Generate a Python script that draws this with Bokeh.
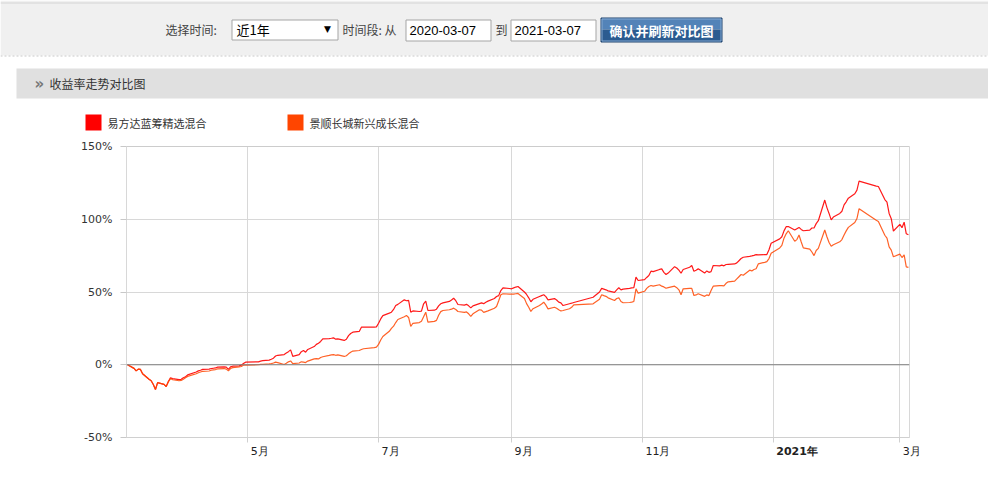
import pandas as pd
from bokeh.plotting import figure
from bokeh.layouts import column
from bokeh.models import (Range1d, FixedTicker, PrintfTickFormatter, CustomJSTickFormatter,
                          Span, Label)
from bokeh.embed import file_html
from bokeh.resources import INLINE

# ---------------- data ----------------
dates = [
    "2020-03-06", "2020-03-09", "2020-03-10", "2020-03-11", "2020-03-12", "2020-03-13",
    "2020-03-16", "2020-03-17", "2020-03-18", "2020-03-19", "2020-03-20", "2020-03-23",
    "2020-03-24", "2020-03-25", "2020-03-26", "2020-03-27", "2020-03-30", "2020-03-31",
    "2020-04-01", "2020-04-02", "2020-04-03", "2020-04-07", "2020-04-08", "2020-04-09",
    "2020-04-10", "2020-04-13", "2020-04-14", "2020-04-15", "2020-04-16", "2020-04-17",
    "2020-04-20", "2020-04-21", "2020-04-22", "2020-04-23", "2020-04-24", "2020-04-27",
    "2020-04-28", "2020-04-29", "2020-04-30", "2020-05-06", "2020-05-07", "2020-05-08",
    "2020-05-11", "2020-05-12", "2020-05-13", "2020-05-14", "2020-05-15", "2020-05-18",
    "2020-05-19", "2020-05-20", "2020-05-21", "2020-05-22", "2020-05-25", "2020-05-26",
    "2020-05-27", "2020-05-28", "2020-05-29", "2020-06-01", "2020-06-02", "2020-06-03",
    "2020-06-04", "2020-06-05", "2020-06-08", "2020-06-09", "2020-06-10", "2020-06-11",
    "2020-06-12", "2020-06-15", "2020-06-16", "2020-06-17", "2020-06-18", "2020-06-19",
    "2020-06-22", "2020-06-23", "2020-06-24", "2020-06-29", "2020-06-30", "2020-07-01",
    "2020-07-02", "2020-07-03", "2020-07-06", "2020-07-07", "2020-07-08", "2020-07-09",
    "2020-07-10", "2020-07-13", "2020-07-14", "2020-07-15", "2020-07-16", "2020-07-17",
    "2020-07-20", "2020-07-21", "2020-07-22", "2020-07-23", "2020-07-24", "2020-07-27",
    "2020-07-28", "2020-07-29", "2020-07-30", "2020-07-31", "2020-08-03", "2020-08-04",
    "2020-08-05", "2020-08-06", "2020-08-07", "2020-08-10", "2020-08-11", "2020-08-12",
    "2020-08-13", "2020-08-14", "2020-08-17", "2020-08-18", "2020-08-19", "2020-08-20",
    "2020-08-21", "2020-08-24", "2020-08-25", "2020-08-26", "2020-08-27", "2020-08-28",
    "2020-08-31", "2020-09-01", "2020-09-02", "2020-09-03", "2020-09-04", "2020-09-07",
    "2020-09-08", "2020-09-09", "2020-09-10", "2020-09-11", "2020-09-14", "2020-09-15",
    "2020-09-16", "2020-09-17", "2020-09-18", "2020-09-21", "2020-09-22", "2020-09-23",
    "2020-09-24", "2020-09-25", "2020-09-28", "2020-09-29", "2020-09-30", "2020-10-09",
    "2020-10-12", "2020-10-13", "2020-10-14", "2020-10-15", "2020-10-16", "2020-10-19",
    "2020-10-20", "2020-10-21", "2020-10-22", "2020-10-23", "2020-10-26", "2020-10-27",
    "2020-10-28", "2020-10-29", "2020-10-30", "2020-11-02", "2020-11-03", "2020-11-04",
    "2020-11-05", "2020-11-06", "2020-11-09", "2020-11-10", "2020-11-11", "2020-11-12",
    "2020-11-13", "2020-11-16", "2020-11-17", "2020-11-18", "2020-11-19", "2020-11-20",
    "2020-11-23", "2020-11-24", "2020-11-25", "2020-11-26", "2020-11-27", "2020-11-30",
    "2020-12-01", "2020-12-02", "2020-12-03", "2020-12-04", "2020-12-07", "2020-12-08",
    "2020-12-09", "2020-12-10", "2020-12-11", "2020-12-14", "2020-12-15", "2020-12-16",
    "2020-12-17", "2020-12-18", "2020-12-21", "2020-12-22", "2020-12-23", "2020-12-24",
    "2020-12-25", "2020-12-28", "2020-12-29", "2020-12-30", "2020-12-31", "2021-01-04",
    "2021-01-05", "2021-01-06", "2021-01-07", "2021-01-08", "2021-01-11", "2021-01-12",
    "2021-01-13", "2021-01-14", "2021-01-15", "2021-01-18", "2021-01-19", "2021-01-20",
    "2021-01-21", "2021-01-22", "2021-01-25", "2021-01-26", "2021-01-27", "2021-01-28",
    "2021-01-29", "2021-02-01", "2021-02-02", "2021-02-03", "2021-02-04", "2021-02-05",
    "2021-02-08", "2021-02-09", "2021-02-10", "2021-02-18", "2021-02-19", "2021-02-22",
    "2021-02-23", "2021-02-24", "2021-02-25", "2021-02-26", "2021-03-01", "2021-03-02",
    "2021-03-03", "2021-03-04", "2021-03-05",
]

red_fund = [
    0.0, -2.5, -4.2, -3.0, -3.2, -6.2,
    -10.0, -11.0, -13.6, -17.0, -12.3, -13.5,
    -15.0, -11.5, -9.0, -9.5, -10.2, -10.0,
    -9.0, -8.2, -7.0, -5.0, -4.2, -3.8,
    -3.2, -3.0, -2.6, -2.4, -2.2, -1.6,
    -1.4, -1.6, -3.2, -1.5, -1.0, -0.8,
    -0.3, 0.8, 1.8, 2.0, 2.5, 2.8,
    3.2, 3.8, 4.5, 6.0, 6.5, 7.0,
    8.0, 9.0, 10.2, 5.8, 7.0, 9.0,
    9.8, 8.6, 10.5, 12.5, 14.0, 14.8,
    16.0, 17.8, 18.0, 18.2, 18.5, 17.6,
    17.8, 16.7, 17.5, 20.0, 21.5, 22.4,
    22.9, 25.8, 25.8, 25.8, 26.0, 28.5,
    31.5, 33.8, 35.5, 36.1, 38.0, 40.7,
    41.5, 44.6, 44.0, 44.3, 36.1, 37.0,
    36.6, 36.8, 41.9, 43.7, 37.3, 37.5,
    38.2, 40.5, 41.9, 42.5, 43.5, 44.5,
    45.7, 44.0, 41.4, 41.0, 41.5, 40.5,
    39.1, 40.5, 42.0, 42.5, 42.0, 43.0,
    43.7, 45.5, 46.9, 47.5, 51.0, 52.9,
    52.4, 52.2, 52.8, 53.4, 53.8, 50.0,
    48.3, 46.0, 43.3, 45.0, 46.9, 47.5,
    48.1, 46.8, 44.6, 45.5, 44.5, 43.0,
    42.5, 40.7, 41.9, 42.3, 42.8, 46.4,
    50.0, 52.5, 52.0, 51.5, 50.8, 49.8,
    51.5, 52.9, 51.5, 52.0, 52.5, 52.8,
    53.0, 60.2, 57.9, 58.5, 60.0, 61.3,
    64.3, 64.0, 65.5, 65.9, 63.5, 62.0,
    63.0, 67.4, 66.5, 65.0, 62.9, 65.5,
    67.0, 68.2, 64.3, 65.0, 65.9, 63.0,
    64.5, 63.5, 64.0, 68.2, 68.0, 68.5,
    68.0, 68.9, 69.0, 69.3, 70.0, 71.5,
    73.0, 73.9, 74.5, 74.8, 75.2, 75.7,
    75.5, 75.7, 75.7, 79.0, 83.5, 86.5,
    88.0, 92.0, 94.9, 95.0, 92.6, 93.5,
    94.4, 93.0, 92.1, 92.5, 94.0, 94.0,
    97.0, 99.0, 113.2, 108.0, 104.0, 99.6,
    101.5, 104.0, 105.5, 109.9, 112.0, 114.5,
    117.5, 120.0, 126.2, 122.8, 122.5, 113.5,
    111.8, 104.0, 100.4, 91.9, 96.5, 94.2,
    98.0, 90.0, 89.3,
]

orange_fund = [
    0.0, -2.5, -4.2, -3.0, -3.2, -6.2,
    -10.0, -11.0, -13.6, -17.0, -12.3, -13.5,
    -15.0, -11.8, -9.5, -10.3, -11.0, -10.8,
    -10.0, -9.0, -8.0, -6.2, -5.5, -5.0,
    -4.5, -4.3, -3.8, -3.5, -3.3, -2.8,
    -2.6, -3.0, -4.2, -2.6, -2.0, -1.5,
    -1.2, -0.3, -0.2, 0.0, 0.2, 0.3,
    0.6, 0.8, 1.2, 1.8, 1.5, 0.2,
    1.0, 2.0, 2.6, 0.8, 1.2, 2.0,
    1.8, 1.5, 2.5, 4.0, 4.2, 4.0,
    5.0, 5.5, 6.4, 6.8, 7.0, 6.5,
    6.8, 5.7, 6.2, 7.5, 8.6, 9.4,
    9.8, 10.5, 11.0, 11.8, 12.1, 14.0,
    17.0, 19.4, 23.0, 25.0, 26.5, 29.0,
    31.1, 33.0, 33.8, 32.5, 26.3, 28.5,
    29.0, 29.9, 33.0, 36.1, 29.3, 29.8,
    30.5, 34.0, 36.5, 37.3, 37.8, 38.2,
    38.9, 38.0, 36.6, 36.0, 36.3, 35.0,
    33.2, 35.0, 37.8, 37.5, 36.0, 36.5,
    37.0, 38.8, 40.0, 44.0, 48.1, 48.8,
    48.5, 48.5, 48.6, 48.8, 49.0, 45.5,
    42.0, 39.5, 36.6, 38.5, 40.7, 41.8,
    43.0, 41.0, 38.4, 39.5, 38.8, 37.8,
    37.0, 37.3, 38.5, 39.5, 41.2, 41.9,
    45.0, 48.1, 47.5, 47.0, 46.0, 44.2,
    45.5, 46.0, 43.5, 42.6, 42.8, 43.0,
    43.5, 52.2, 49.2, 50.5, 52.5, 53.8,
    54.5, 54.0, 55.0, 54.0, 53.5, 52.6,
    53.0, 54.0, 53.0, 51.5, 48.1, 52.2,
    52.5, 52.5, 47.6, 48.0, 48.8, 47.0,
    48.0, 47.5, 51.0, 54.0, 54.4, 54.4,
    54.2, 56.0, 57.0, 57.5, 59.0, 60.5,
    62.0, 61.5, 65.0, 64.5, 65.5, 66.0,
    69.3, 70.4, 70.9, 73.0, 76.6, 80.3,
    82.0, 87.0, 90.0, 92.1, 84.9, 86.0,
    89.2, 84.5, 80.3, 79.5, 77.5, 75.0,
    78.5, 80.0, 92.6, 88.0, 84.0, 81.4,
    82.5, 84.5, 86.0, 89.2, 92.0, 94.4,
    97.8, 100.5, 107.3, 99.3, 98.5, 89.0,
    87.1, 81.0, 78.8, 74.2, 76.0, 73.7,
    75.5, 67.3, 66.9,
]

series_names = ["易方达蓝筹精选混合", "景顺长城新兴成长混合"]
series_colors = ["#FF0000", "#FF4500"]
x_tick_dates = ["2020-05-01", "2020-07-01", "2020-09-01", "2020-11-01", "2021-01-01", "2021-03-01"]
x_tick_labels = ["5月", "7月", "9月", "11月", "2021年", "3月"]
x_tick_bold = [False, False, False, False, True, False]
y_ticks = [-50, 0, 50, 100, 150]

period_option = "近1年"
date_from = "2020-03-07"
date_to = "2021-03-07"


def ms(s):
    return pd.Timestamp(s).value // 10**6


W = 988
H_TOP, H_MAIN, H_BOT = 138, 305, 34
FRAME_L, FRAME_R = 126, 909
X0, X1 = ms("2020-03-05 12:00"), ms("2021-03-05 12:00")
MS_PER_PX = (X1 - X0) / (FRAME_R - FRAME_L)


def bare_figure(h, x_range, y_range):
    f = figure(width=W, height=h, output_backend="svg", toolbar_location=None,
               x_range=x_range, y_range=y_range, x_axis_location=None, y_axis_location=None,
               min_border=0, frame_align=False)
    f.grid.visible = False
    f.outline_line_color = None
    f.background_fill_color = "white"
    f.border_fill_color = "white"
    return f


# ---------------- top: controls, section header, legend ----------------
top = bare_figure(H_TOP, Range1d(0, W), Range1d(H_TOP, 0))


def rect(x0, y0, x1, y1, fill, line=None):
    top.quad(left=[x0], right=[x1], top=[y0], bottom=[y1], fill_color=fill,
             line_color=line, line_width=1)


def txt(x, y, s, size="12px", color="#444444", font="Noto Sans CJK SC", style="normal", align="left"):
    top.add_layout(Label(x=x, y=y, text=s, text_align=align, text_baseline="middle",
                         text_font=font, text_font_size=size, text_font_style=style,
                         text_color=color))


rect(0, 0, W, 55, "#F0F0F0")
top.segment(x0=[0], y0=[2.5], x1=[W], y1=[2.5], line_color="#D4D4D4", line_width=1)
top.segment(x0=[0], y0=[55.5], x1=[W], y1=[55.5], line_color="#C8C8C8", line_width=1, line_dash="2 2")

txt(165, 29, "选择时间:")
rect(231.5, 19.5, 337.5, 39.5, "#FFFFFF", "#A5A5A5")
txt(236, 29, period_option, size="13px", color="#000000")
txt(327, 28.5, "▼", size="9px", color="#000000", font="DejaVu Sans", align="center")
txt(342, 29, "时间段: 从")
rect(405.5, 19.5, 490.5, 40.5, "#FFFFFF", "#A5A5A5")
txt(409, 30, date_from, size="13px", color="#000000", font="Liberation Sans")
txt(495, 29, "到")
rect(510.5, 19.5, 595.5, 40.5, "#FFFFFF", "#A5A5A5")
txt(514, 30, date_to, size="13px", color="#000000", font="Liberation Sans")
rect(600.5, 17.5, 721.5, 29, "#5383B8", None)
rect(600.5, 29, 721.5, 41.5, "#2B5B90", None)
rect(600.5, 17.5, 721.5, 41.5, None, "#1E426C")
rect(601.5, 18.5, 720.5, 40.5, None, "#86AAD2")
txt(661, 29.5, "确认并刷新对比图", size="13px", color="#FFFFFF", style="bold", align="center")

rect(16, 68, W, 98, "#E0E0E0")
txt(34, 83, "»", size="15px", color="#777777", font="DejaVu Sans", style="bold")
txt(49, 83, "收益率走势对比图", size="12px", color="#333333")

legend_x = [85, 287]
for lx, name, col in zip(legend_x, series_names, series_colors):
    rect(lx, 114, lx + 16, 130, col)
    txt(lx + 22, 122.5, name, size="11px", color="#333333")

# ---------------- main chart ----------------
p = figure(width=W, height=H_MAIN, output_backend="svg", toolbar_location=None,
           x_axis_type="datetime", x_range=Range1d(X0, X1), y_range=Range1d(-50, 150),
           min_border_left=FRAME_L, min_border_right=W - FRAME_R, min_border_top=8,
           min_border_bottom=6, frame_align=False)
p.background_fill_color = "white"
p.border_fill_color = "white"
p.outline_line_color = "#D8D8D8"

tick_ms = [ms(d) for d in x_tick_dates]
p.xaxis.ticker = FixedTicker(ticks=tick_ms)
p.xgrid.ticker = FixedTicker(ticks=tick_ms)
p.xaxis.formatter = CustomJSTickFormatter(code="return ''")
p.xaxis.major_label_text_font_size = "0px"
p.xaxis.major_label_standoff = 0
p.xaxis.axis_line_color = "#D0D0D0"
p.xaxis.major_tick_line_color = "#D0D0D0"
p.xaxis.major_tick_out = 5
p.xaxis.major_tick_in = 0
p.xaxis.minor_tick_line_color = None

p.yaxis.ticker = FixedTicker(ticks=y_ticks)
p.ygrid.ticker = FixedTicker(ticks=y_ticks)
p.yaxis.formatter = PrintfTickFormatter(format="%d%%")
p.yaxis.axis_line_color = None
p.yaxis.major_tick_line_color = "#C8C8C8"
p.yaxis.major_tick_out = 6
p.yaxis.major_tick_in = 0
p.yaxis.minor_tick_line_color = None
p.yaxis.major_label_standoff = 8
p.yaxis.major_label_text_font = "DejaVu Sans"
p.yaxis.major_label_text_font_size = "11px"
p.yaxis.major_label_text_color = "#333333"

p.xgrid.grid_line_color = "#D8D8D8"
p.ygrid.grid_line_color = "#D8D8D8"
p.add_layout(Span(location=150, dimension="width", line_color="#C0C0C0", line_width=1))
p.add_layout(Span(location=0, dimension="width", line_color="#808080", line_width=1))

x_dt = pd.to_datetime(dates)
p.line(x_dt, red_fund, line_color=series_colors[0], line_width=1.2, line_alpha=0.9)
p.line(x_dt, orange_fund, line_color=series_colors[1], line_width=1.2, line_alpha=0.85)

# ---------------- bottom strip: x tick labels on the same time scale ----------------
bx0 = X0 - FRAME_L * MS_PER_PX
bx1 = bx0 + W * MS_PER_PX
bot = bare_figure(H_BOT, Range1d(bx0, bx1), Range1d(H_BOT, 0))
for d, lab, bold in zip(x_tick_dates, x_tick_labels, x_tick_bold):
    bot.add_layout(Label(x=ms(d), y=8, text=lab, x_offset=3, text_align="left",
                         text_baseline="middle", text_font="DejaVu Sans", text_font_size="11px",
                         text_font_style="bold" if bold else "normal", text_color="#222222"))

layout = column(top, p, bot, spacing=0)
open("out.html", "w").write(file_html(layout, INLINE))
